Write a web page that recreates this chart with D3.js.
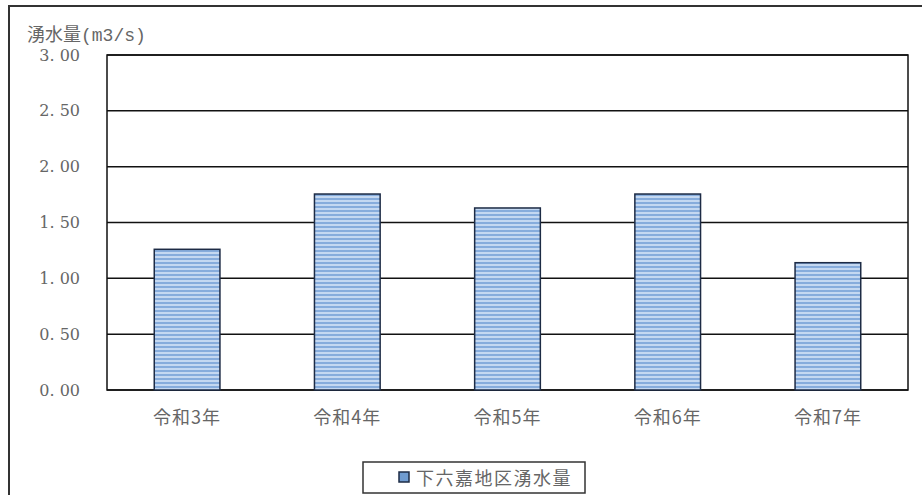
<!DOCTYPE html>
<html>
<head>
<meta charset="utf-8">
<script src="https://cdn.jsdelivr.net/npm/d3@7"></script>
<style>
  body { margin: 0; background: #fff; }
  svg text { font-family: "DejaVu Serif", "Noto Sans CJK JP", serif; fill: #666; }
</style>
</head>
<body>
<svg id="chart" width="922" height="495"></svg>
<script>
const years = ['令和3年', '令和4年', '令和5年', '令和6年', '令和7年'];
const flow = [1.26, 1.755, 1.63, 1.755, 1.14];
const yTicks = [0, 0.5, 1.0, 1.5, 2.0, 2.5, 3.0];
const seriesName = '下六嘉地区湧水量';
const yTitle = ['湧水量', '(m3/s)'];

const svg = d3.select('#chart');
const plot = { left: 107, top: 55, right: 908, bottom: 390 };

// striped bar fill
const defs = svg.append('defs');
const pat = defs.append('pattern')
  .attr('id', 'stripes')
  .attr('patternUnits', 'userSpaceOnUse')
  .attr('width', 8).attr('height', 4);
pat.append('rect').attr('width', 8).attr('height', 4).attr('fill', '#c4d8f1');
pat.append('rect').attr('y', 2).attr('width', 8).attr('height', 2).attr('fill', '#86acdc');

// outer frame
svg.append('rect')
  .attr('x', 9).attr('y', 6).attr('width', 940).attr('height', 520)
  .attr('fill', 'none').attr('stroke', '#333').attr('stroke-width', 2);

const x = d3.scaleBand().domain(years).range([plot.left, plot.right]).paddingInner(0.59).paddingOuter(0.295);
const y = d3.scaleLinear().domain([0, 3]).range([plot.bottom, plot.top]);

// gridlines
svg.append('g')
  .selectAll('line').data(yTicks).join('line')
  .attr('x1', plot.left).attr('x2', plot.right)
  .attr('y1', d => y(d)).attr('y2', d => y(d))
  .attr('stroke', '#111').attr('stroke-width', 1.5);

// plot border
svg.append('rect')
  .attr('x', plot.left).attr('y', plot.top)
  .attr('width', plot.right - plot.left).attr('height', plot.bottom - plot.top)
  .attr('fill', 'none').attr('stroke', '#111').attr('stroke-width', 1.5);

// bars
svg.append('g')
  .selectAll('rect').data(years).join('rect')
  .attr('x', d => x(d))
  .attr('y', (d, i) => y(flow[i]))
  .attr('width', x.bandwidth())
  .attr('height', (d, i) => y(0) - y(flow[i]))
  .attr('fill', 'url(#stripes)')
  .attr('stroke', '#1d2b45').attr('stroke-width', 1.5);

// y axis labels
const yAxis = d3.axisLeft(y).tickValues(yTicks).tickSize(0).tickPadding(0)
  .tickFormat(d => d3.format('.2f')(d).replace('.', '. '));
svg.append('g')
  .attr('transform', `translate(80,0)`)
  .call(yAxis)
  .call(g => g.select('.domain').remove())
  .call(g => g.selectAll('text').attr('font-size', 16).attr('fill', '#666')
    .style('font-family', '"DejaVu Serif", serif'));

const t = svg.append('text')
  .attr('x', 27).attr('y', 41)
  .attr('font-size', 18);
t.append('tspan').style('font-family', '"Noto Sans CJK JP", sans-serif').text(yTitle[0]);
t.append('tspan').style('font-family', '"Liberation Mono", monospace').text(yTitle[1]);

// x axis labels
const xAxis = d3.axisBottom(x).tickSize(0).tickPadding(0);
svg.append('g')
  .attr('transform', `translate(0,${plot.bottom + 34})`)
  .call(xAxis)
  .call(g => g.select('.domain').remove())
  .call(g => g.selectAll('text').attr('font-size', 18).attr('fill', '#666').attr('dy', 0)
    .attr('letter-spacing', 1)
    .style('font-family', '"Noto Sans CJK JP", sans-serif'));

// legend
const lg = svg.append('g').attr('transform', 'translate(363,462)');
lg.append('rect').attr('width', 222).attr('height', 31)
  .attr('fill', '#fff').attr('stroke', '#333').attr('stroke-width', 1.5);
lg.append('rect').attr('x', 36).attr('y', 10).attr('width', 10).attr('height', 10)
  .attr('fill', '#6f9bd0').attr('stroke', '#1d2b45').attr('stroke-width', 1.5);
lg.append('text').attr('x', 53).attr('y', 23)
  .attr('font-size', 18)
  .attr('letter-spacing', 1.5)
  .style('font-family', '"Noto Sans CJK JP", sans-serif')
  .text(seriesName);
</script>
</body>
</html>
